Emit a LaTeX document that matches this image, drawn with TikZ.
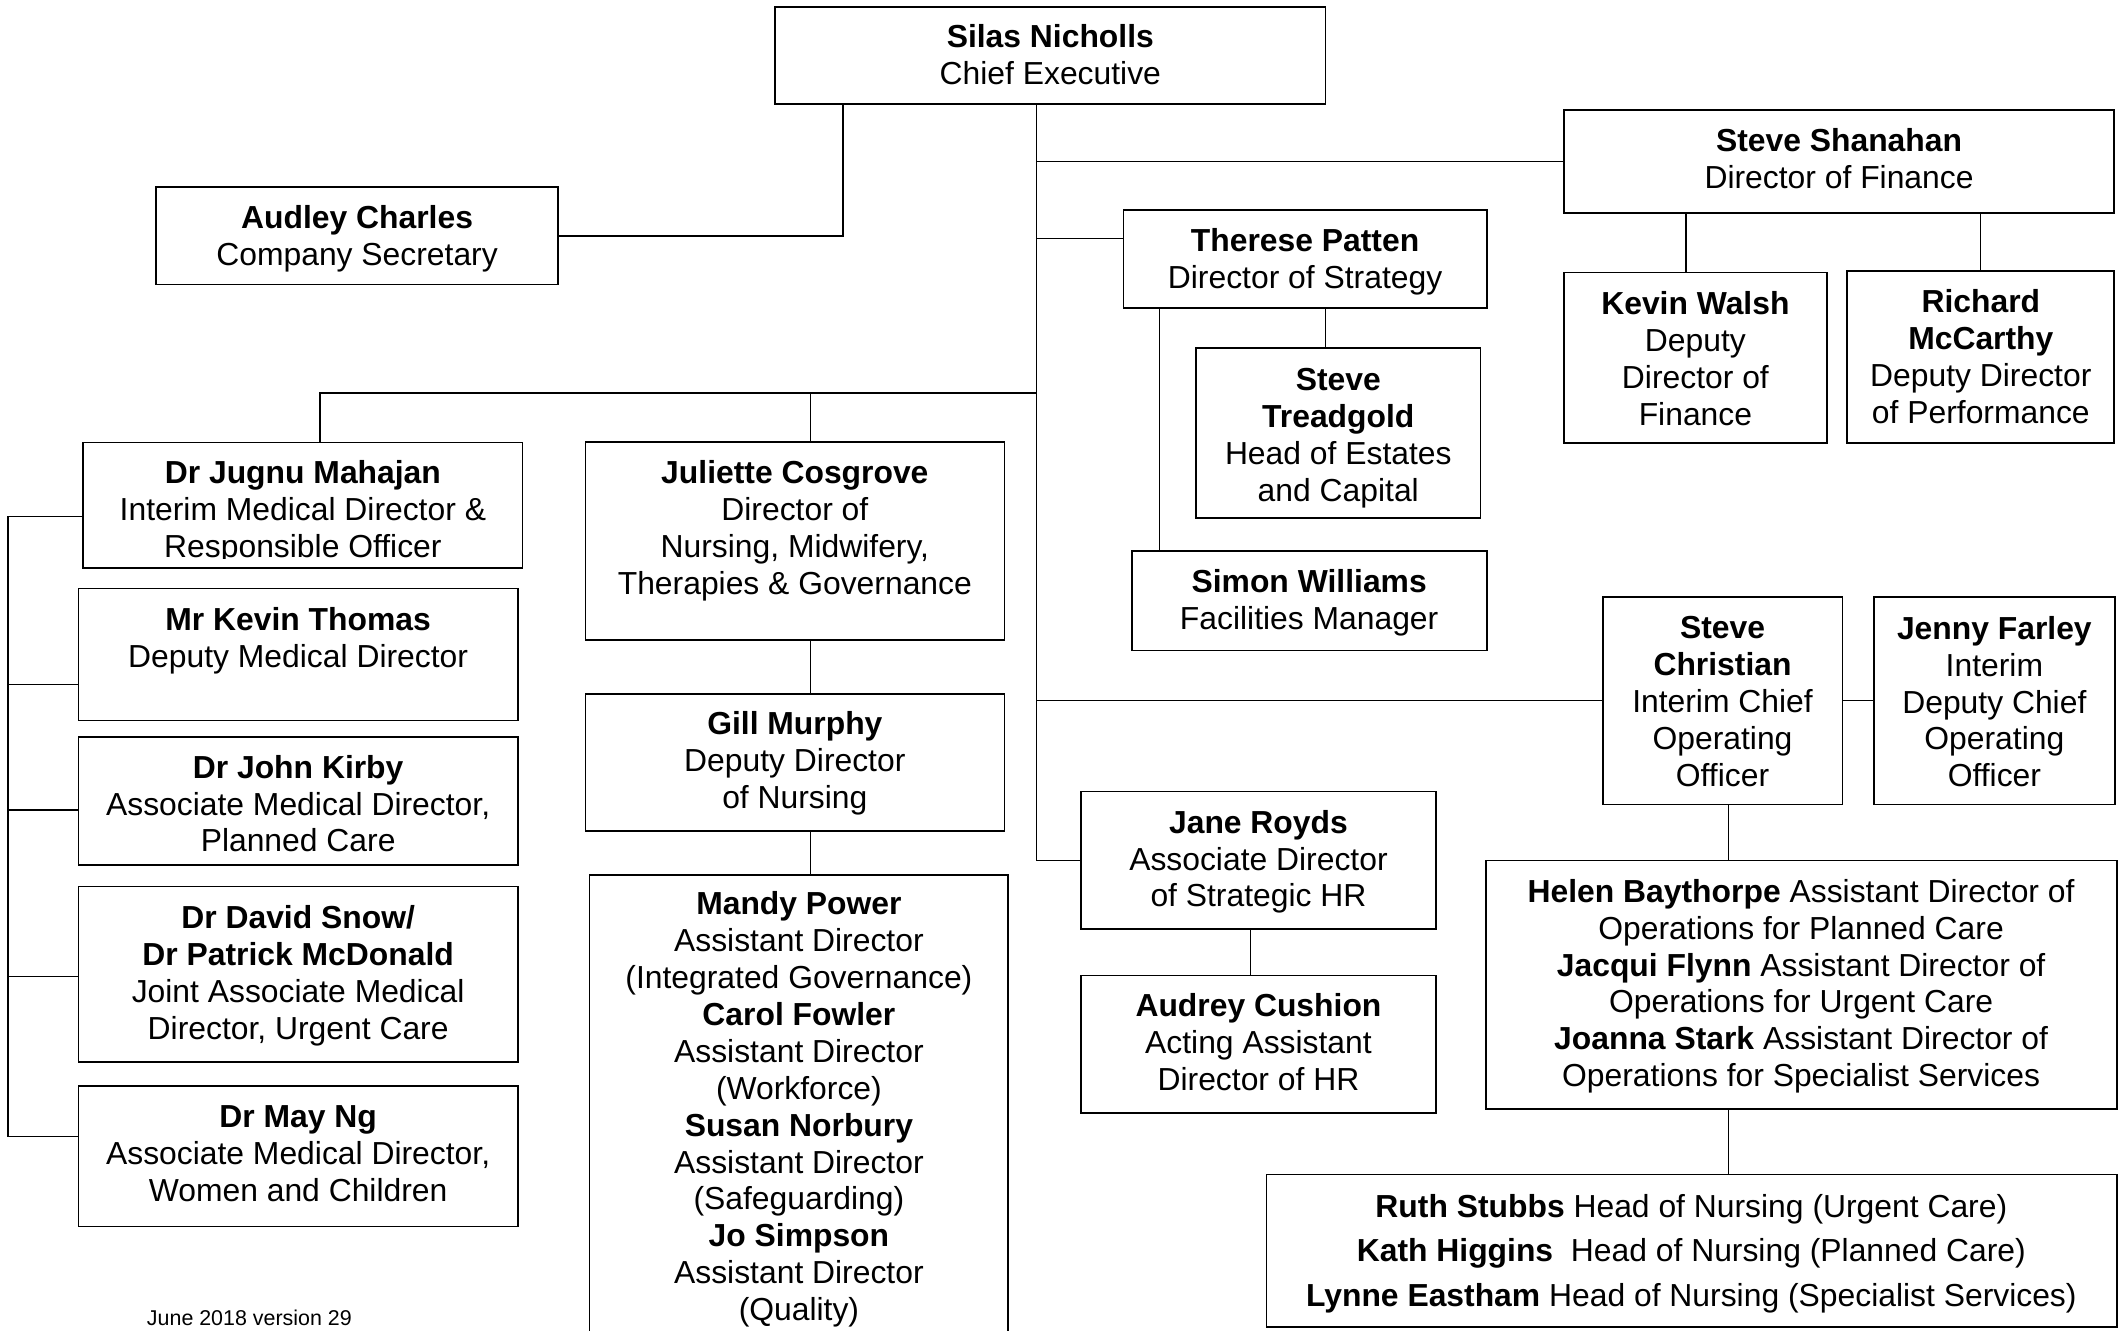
\documentclass[tikz,border=0pt]{standalone}
\usepackage{fontspec}
\setmainfont{Liberation Sans}
\usetikzlibrary{fit}
\begin{document}
\begin{tikzpicture}[x=0.5pt,y=-0.5pt,
  box/.style={draw=black,line width=0.65pt,inner sep=0pt,outer sep=0pt},
  txt/.style={align=center,inner sep=0pt,yshift=-0.75pt,font=\fontsize{11.75}{13.6}\selectfont,
    execute at begin node=\strut,execute at end node=\strut},
  link/.style={draw=black,line width=0.5pt},
  note/.style={inner sep=0pt,anchor=base,font=\fontsize{7.9}{9.5}\selectfont}]
\fill[white] (0,0) rectangle (1568,982);
\useasboundingbox (0,0) rectangle (1568,982);

% ---- boxes ----
\node[box,fit={(572,5) (978,77)}] (silas) {};
\node[box,fit={(115,138) (412,210)}] (audley) {};
\node[box,fit={(1154,81) (1560,157)}] (shanahan) {};
\node[box,fit={(829,155) (1097,227)}] (patten) {};
\node[box,fit={(1154,201) (1348,327)}] (walsh) {};
\node[box,fit={(1363,200) (1560,327)}] (mccarthy) {};
\node[box,fit={(882.5,257) (1092.5,382)}] (treadgold) {};
\node[box,fit={(835.5,406.6) (1097,480)}] (simon) {};
\node[box,fit={(61,326.5) (385.5,419)}] (mahajan) {};
\node[box,fit={(58,434.3) (382.4,531.6)}] (thomas) {};
\node[box,fit={(58,544) (382.4,638.3)}] (kirby) {};
\node[box,fit={(58,654.2) (382.4,783.7)}] (snow) {};
\node[box,fit={(58,801.6) (382.4,905)}] (mayng) {};
\node[box,fit={(432,326.2) (741.2,472.4)}] (cosgrove) {};
\node[box,fit={(432,511.8) (741.2,613.4)}] (murphy) {};
\node[box,fit={(435,645.6) (744,1000)}] (mandy) {};
\node[box,fit={(1182.6,440.4) (1359.6,593.6)}] (christian) {};
\node[box,fit={(1382.8,440.4) (1560.5,593.6)}] (farley) {};
\node[box,fit={(797.6,584.1) (1059.6,685.4)}] (royds) {};
\node[box,fit={(797.6,719.8) (1059.6,821.1)}] (cushion) {};
\node[box,fit={(1096.6,634.9) (1562,818.5)}] (helen) {};
\node[box,fit={(934.6,866.7) (1562,979)}] (ruth) {};

% ---- texts ----
\node[txt] (silasT) at (775,43) {\textbf{Silas Nicholls}\\Chief Executive};
\node[txt] (audleyT) at (263.5,176.1) {\textbf{Audley Charles}\\Company Secretary};
\node[txt] (shanahanT) at (1357,119.6) {\textbf{Steve Shanahan}\\Director of Finance};
\node[txt] (pattenT) at (963,193) {\textbf{Therese Patten}\\Director of Strategy};
\node[txt] (walshT) at (1251,266.9) {\textbf{Kevin Walsh}\\Deputy\\Director of\\Finance};
\node[txt] (mccarthyT) at (1461.6,265.5) {\textbf{Richard}\\\textbf{McCarthy}\\Deputy Director\\of Performance};
\node[txt] (treadgoldT) at (987.5,323.4) {\textbf{Steve}\\\textbf{Treadgold}\\Head of Estates\\and Capital};
\node[txt] (simonT) at (966,445.1) {\textbf{Simon Williams}\\Facilities Manager};
\begin{scope}
\clip (61,326.5) rectangle (385.5,411.8);
\node[txt] (mahajanT) at (223.5,378.1) {\textbf{Dr Jugnu Mahajan}\\Interim Medical Director \&\\Responsible Officer};
\end{scope}
\node[txt] (thomasT) at (220,472.9) {\textbf{Mr Kevin Thomas}\\Deputy Medical Director};
\node[txt] (kirbyT) at (220,595.5) {\textbf{Dr John Kirby}\\Associate Medical Director,\\Planned Care};
\node[txt] (snowT) at (220,720) {\textbf{Dr David Snow/}\\\textbf{Dr Patrick McDonald}\\Joint Associate Medical\\Director, Urgent Care};
\node[txt] (mayngT) at (220,853.6) {\textbf{Dr May Ng}\\Associate Medical Director,\\Women and Children};
\node[txt] (cosgroveT) at (586.5,391.6) {\textbf{Juliette Cosgrove}\\Director of\\Nursing, Midwifery,\\Therapies \& Governance};
\node[txt] (murphyT) at (586.5,563.5) {\textbf{Gill Murphy}\\Deputy Director\\of Nursing};
\node[txt] (mandyT) at (589.5,818.8) {\textbf{Mandy Power}\\Assistant Director\\(Integrated Governance)\\\textbf{Carol Fowler}\\Assistant Director\\(Workforce)\\\textbf{Susan Norbury}\\Assistant Director\\(Safeguarding)\\\textbf{Jo Simpson}\\Assistant Director\\(Quality)};
\node[txt] (christianT) at (1271,520.2) {\textbf{Steve}\\\textbf{Christian}\\Interim Chief\\Operating\\Officer};
\node[txt] (farleyT) at (1471.6,520.2) {\textbf{Jenny Farley}\\Interim\\Deputy Chief\\Operating\\Officer};
\node[txt] (roydsT) at (928.6,636.1) {\textbf{Jane Royds}\\Associate Director\\of Strategic HR};
\node[txt] (cushionT) at (928.6,771.6) {\textbf{Audrey Cushion}\\Acting Assistant\\Director of HR};
\node[txt] (helenT) at (1329,727.9) {\textbf{Helen Baythorpe} Assistant Director of\\Operations for Planned Care\\\textbf{Jacqui Flynn} Assistant Director of\\Operations for Urgent Care\\\textbf{Joanna Stark} Assistant Director of\\Operations for Specialist Services};
\node[txt] (ruthT) at (1248,925.2) {\textbf{Ruth Stubbs} Head of Nursing (Urgent Care)\\[2.9pt]\textbf{Kath Higgins}\ \ Head of Nursing (Planned Care)\\[2.9pt]\textbf{Lynne Eastham} Head of Nursing (Specialist Services)};
\node[note] (june) at (184,978.4) {June 2018 version 29};

% ---- junction points ----
\coordinate (jA) at (622,174);
\coordinate (jT) at (765,634);
\coordinate (jP) at (765,176);
\coordinate (jL) at (765,290);
\coordinate (jM) at (236,290);
\coordinate (jC) at (598,290);
\coordinate (k1) at (6,381);
\coordinate (k2) at (6,505);
\coordinate (k3) at (6,597.6);
\coordinate (k4) at (6,720.6);
\coordinate (k5) at (6,838.5);
\coordinate (jTG) at (978,240);
\coordinate (jSW) at (855.7,300);
\coordinate (jW) at (1244,180);
\coordinate (jR) at (922.5,700);
\coordinate (jH) at (1275.6,600);

% ---- connectors ----
\draw[link] (silas.south -| jA) |- (audley.east);
\draw[link] (silas.south -| jT) |- (royds.west);
\draw[link] (jT |- shanahan.west) -- (shanahan.west);
\draw[link] (jP) -- (patten.west |- jP);
\draw[link] (jT |- christian.west) -- (christian.west);
\draw[link] (christian.east) -- (farley.west);
\draw[link] (jL) -- (jM) -- (mahajan.north -| jM);
\draw[link] (jC) -- (cosgrove.north -| jC);
\draw[link] (cosgrove.south -| jC) -- (murphy.north -| jC);
\draw[link] (murphy.south -| jC) -- (mandy.north -| jC);
\draw[link] (mahajan.west |- k1) -- (k1) -- (k5) -- (mayng.west |- k5);
\draw[link] (k2) -- (thomas.west |- k2);
\draw[link] (k3) -- (kirby.west |- k3);
\draw[link] (k4) -- (snow.west |- k4);
\draw[link] (patten.south -| jTG) -- (treadgold.north -| jTG);
\draw[link] (patten.south -| jSW) -- (simon.north -| jSW);
\draw[link] (shanahan.south -| jW) -- (walsh.north -| jW);
\draw[link] (shanahan.south -| mccarthy.north) -- (mccarthy.north);
\draw[link] (royds.south -| jR) -- (cushion.north -| jR);
\draw[link] (christian.south -| jH) -- (helen.north -| jH);
\draw[link] (helen.south -| jH) -- (ruth.north -| jH);
\end{tikzpicture}
\end{document}
